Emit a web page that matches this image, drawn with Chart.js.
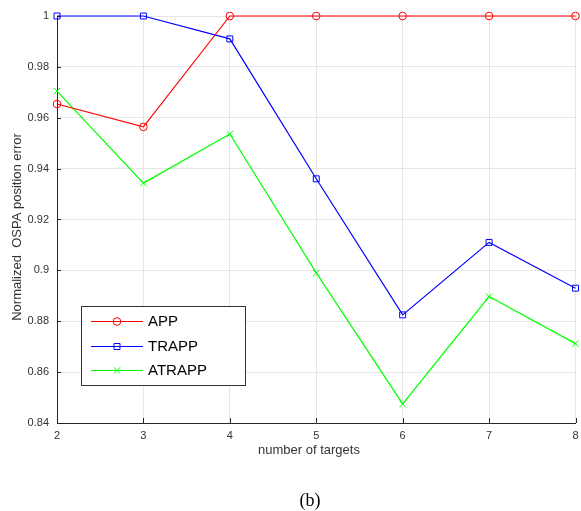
<!DOCTYPE html>
<html><head><meta charset="utf-8">
<script src="https://cdn.jsdelivr.net/npm/chart.js@4.4.1/dist/chart.umd.min.js"></script>
<style>
html,body{margin:0;padding:0;background:#fff;}
#wrap{position:relative;width:581px;height:511px;}
#cap{position:absolute;left:260px;width:100px;top:490px;text-align:center;font:18px "Liberation Serif","Times New Roman",serif;line-height:20px;color:#000;}
</style></head><body>
<div id="wrap"><canvas id="c" width="581" height="511"></canvas><div id="cap">(b)</div></div>
<script>
const xValues = [2, 3, 4, 5, 6, 7, 8];
const appValues = [0.9654, 0.9564, 1, 1, 1, 1, 1];
const trappValues = [1, 1, 0.991, 0.936, 0.8825, 0.911, 0.893];
const atrappValues = [0.9705, 0.9343, 0.9536, 0.899, 0.8475, 0.8897, 0.8712];
const seriesNames = ['APP', 'TRAPP', 'ATRAPP'];
const xTickLabels = ['2', '3', '4', '5', '6', '7', '8'];
const yTickValues = [0.84, 0.86, 0.88, 0.9, 0.92, 0.94, 0.96, 0.98, 1];
const yTickLabels = ['0.84', '0.86', '0.88', '0.9', '0.92', '0.94', '0.96', '0.98', '1'];
const xTitle = 'number of targets';
const yTitle = 'Normalized  OSPA position error';

const colors = ['#ff0000', '#0000ff', '#00ff00'];
const styles = ['circle', 'rect', 'crossRot'];
const radii = [3.8, 4.2, 4.5];

function pts(vals) { return xValues.map((x, i) => ({x: x, y: vals[i]})); }

Chart.defaults.font.family = '"Liberation Sans", Arial, Helvetica, sans-serif';

function drawMarker(ctx, style, x, y, color) {
  ctx.save();
  ctx.strokeStyle = color; ctx.lineWidth = 1;
  ctx.beginPath();
  if (style === 'circle') { ctx.arc(x, y, 3.8, 0, Math.PI * 2); }
  else if (style === 'rect') { ctx.rect(x - 3, y - 3, 6, 6); }
  else { ctx.moveTo(x - 3.2, y - 3.2); ctx.lineTo(x + 3.2, y + 3.2); ctx.moveTo(x + 3.2, y - 3.2); ctx.lineTo(x - 3.2, y + 3.2); }
  ctx.stroke();
  ctx.restore();
}

const decor = {
  id: 'decor',
  beforeDatasetsDraw(chart) {
    const ctx = chart.ctx, xs = chart.scales.x, ys = chart.scales.y, a = chart.chartArea;
    ctx.save();
    ctx.strokeStyle = '#262626'; ctx.lineWidth = 1;
    ctx.beginPath();
    xValues.forEach(v => { const px = Math.round(xs.getPixelForValue(v)) + 0.5; ctx.moveTo(px, a.bottom); ctx.lineTo(px, a.bottom - 5); });
    yTickValues.forEach(v => { const py = Math.round(ys.getPixelForValue(v)) + 0.5; ctx.moveTo(a.left, py); ctx.lineTo(a.left + 4, py); });
    ctx.stroke();
    // axis titles (placed as in the original figure)
    ctx.fillStyle = '#333';
    ctx.font = '13px "Liberation Sans", Arial, sans-serif';
    ctx.textAlign = 'center'; ctx.textBaseline = 'middle';
    ctx.fillText(xTitle, 309, 450);
    ctx.translate(17, 227);
    ctx.rotate(-Math.PI / 2);
    ctx.fillText(yTitle, 0, 0);
    ctx.restore();
  },
  afterDraw(chart) {
    const ctx = chart.ctx;
    const bx = 81.5, by = 306.5, bw = 164, bh = 79;
    ctx.save();
    ctx.fillStyle = '#fff';
    ctx.fillRect(bx, by, bw, bh);
    ctx.strokeStyle = '#333'; ctx.lineWidth = 1;
    ctx.strokeRect(bx, by, bw, bh);
    const rows = [321, 346, 370];
    chart.data.datasets.forEach((ds, i) => {
      const y = rows[i] + 0.5;
      ctx.strokeStyle = ds.borderColor; ctx.lineWidth = 1;
      ctx.beginPath(); ctx.moveTo(91, y); ctx.lineTo(143, y); ctx.stroke();
      drawMarker(ctx, styles[i], 117, y, ds.borderColor);
      ctx.fillStyle = '#000';
      ctx.font = '15px "Liberation Sans", Arial, sans-serif';
      ctx.textBaseline = 'middle'; ctx.textAlign = 'left';
      ctx.fillText(ds.label, 148, y + 0.5);
    });
    ctx.restore();
  }
};

const datasets = [appValues, trappValues, atrappValues].map((vals, i) => ({
  label: seriesNames[i],
  data: pts(vals),
  borderColor: colors[i],
  backgroundColor: 'rgba(0,0,0,0)',
  borderWidth: 1.2,
  pointStyle: styles[i],
  pointRadius: radii[i],
  pointBorderWidth: 1,
  pointBorderColor: colors[i],
  pointBackgroundColor: 'rgba(0,0,0,0)',
  tension: 0,
  clip: false
}));

new Chart(document.getElementById('c'), {
  type: 'line',
  data: { datasets: datasets },
  plugins: [decor],
  options: {
    responsive: false,
    animation: false,
    devicePixelRatio: 1,
    layout: { padding: { left: 0, right: 3, top: 16, bottom: 48 } },
    plugins: { legend: { display: false }, tooltip: { enabled: false } },
    scales: {
      x: {
        type: 'linear', min: 2, max: 8,
        ticks: { stepSize: 1, padding: 6, color: '#333', font: { size: 11 },
          callback: (v) => { const k = xValues.indexOf(v); return k >= 0 ? xTickLabels[k] : ''; } },
        grid: { color: '#e6e6e6', drawTicks: false, lineWidth: 1 },
        border: { color: '#262626', width: 1 },
        title: { display: false, text: xTitle },
        afterFit(s) { s.height = 40; s.paddingLeft = 0; s.paddingRight = 0; }
      },
      y: {
        type: 'linear', min: 0.84, max: 1,
        afterBuildTicks(s) { s.ticks = yTickValues.map(v => ({ value: v })); },
        ticks: { padding: 8, color: '#333', font: { size: 11 },
          callback: (v) => { const k = yTickValues.findIndex(t => Math.abs(t - v) < 1e-9); return k >= 0 ? yTickLabels[k] : ''; } },
        grid: { color: '#e6e6e6', drawTicks: false, lineWidth: 1 },
        border: { color: '#262626', width: 1 },
        title: { display: false, text: yTitle },
        afterFit(s) { s.width = 57; s.paddingTop = 0; s.paddingBottom = 0; }
      }
    }
  }
});
</script>
</body></html>
